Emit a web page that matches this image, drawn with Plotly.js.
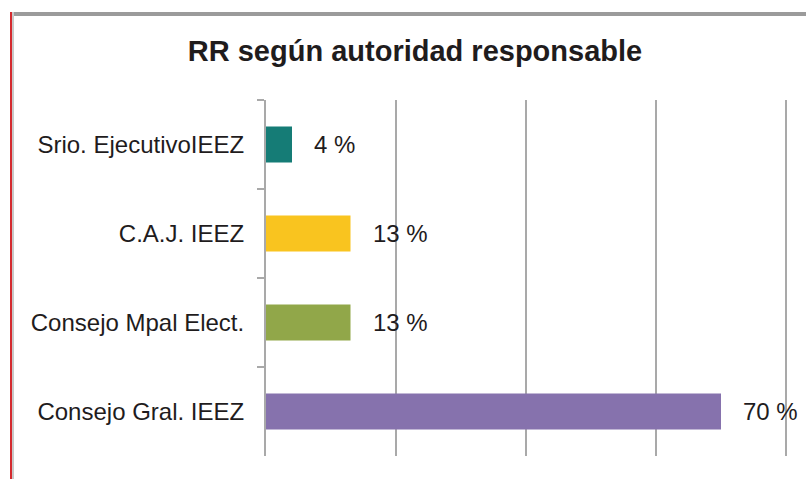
<!DOCTYPE html>
<html>
<head>
<meta charset="utf-8">
<script src="https://cdn.plot.ly/plotly-3.0.1.min.js"></script>
<style>
html,body{margin:0;padding:0;background:#fff;}
#chart{width:806px;height:479px;}
</style>
</head>
<body>
<div id="chart"></div>
<script>
const categories = ["Srio. EjecutivoIEEZ", "C.A.J. IEEZ", "Consejo Mpal Elect.", "Consejo Gral. IEEZ"];
const values = [4, 13, 13, 70];
const valueLabels = ["4 %", "13 %", "13 %", "70 %"];
const barColors = ["#157C76", "#F9C41F", "#91A749", "#8672AD"];
const chartTitle = "RR según autoridad responsable";
const xMax = 80;

const textColor = "#1f1c1d";
const gridColor = "#a9a9a9";

const trace = {
  type: "bar",
  orientation: "h",
  y: categories,
  x: values,
  marker: {color: barColors},
  hoverinfo: "none"
};

const annotations = categories.map((c, i) => ({
  x: values[i],
  y: c,
  xref: "x",
  yref: "y",
  text: valueLabels[i],
  showarrow: false,
  xanchor: "left",
  yanchor: "middle",
  xshift: 20,
  font: {family: "Liberation Sans, Arial, sans-serif", size: 24, color: textColor}
}));

const L = 266, R = 790, T = 100, B = 456;
const unitPx = (786 - L) / xMax;
const px = v => (v - L) / (R - L);
const py = v => (B - v) / (B - T);

const layout = {
  width: 806,
  height: 479,
  margin: {l: L, r: 806 - R, t: T, b: 479 - B},
  paper_bgcolor: "#ffffff",
  plot_bgcolor: "#ffffff",
  showlegend: false,
  bargap: 0.595,
  title: {
    text: chartTitle,
    x: 415 / 806,
    xanchor: "center",
    y: 1 - 51 / 479,
    yanchor: "middle",
    font: {family: "Liberation Sans, Arial, sans-serif", size: 29, color: textColor, weight: "bold"}
  },
  xaxis: {
    range: [0, (R - L) / unitPx],
    tickvals: [0, 20, 40, 60, 80],
    showticklabels: false,
    showgrid: true,
    gridcolor: gridColor,
    gridwidth: 2,
    zeroline: false,
    showline: false,
    ticks: "",
    fixedrange: true
  },
  yaxis: {
    autorange: "reversed",
    type: "category",
    showline: true,
    linecolor: gridColor,
    linewidth: 2,
    ticks: "outside",
    tickson: "boundaries",
    ticklen: 7,
    tickwidth: 2,
    tickcolor: gridColor,
    ticklabelstandoff: 15,
    showgrid: false,
    zeroline: false,
    tickfont: {family: "Liberation Sans, Arial, sans-serif", size: 24, color: textColor},
    fixedrange: true
  },
  annotations: annotations,
  shapes: [
    {type: "line", xref: "paper", yref: "paper", x0: px(786), x1: px(786), y0: 0, y1: 1,
     line: {color: gridColor, width: 2}},
    {type: "line", xref: "paper", yref: "paper", x0: px(10), x1: px(806), y0: py(14), y1: py(14),
     line: {color: "#9b9b9b", width: 4}},
    {type: "line", xref: "paper", yref: "paper", x0: px(13), x1: px(13), y0: py(12), y1: py(479),
     line: {color: "#c8c8c8", width: 2}},
    {type: "line", xref: "paper", yref: "paper", x0: px(11), x1: px(11), y0: py(12), y1: py(479),
     line: {color: "#d42a2f", width: 2}}
  ]
};

Plotly.newPlot("chart", [trace], layout, {displayModeBar: false, staticPlot: true});
</script>
</body>
</html>
